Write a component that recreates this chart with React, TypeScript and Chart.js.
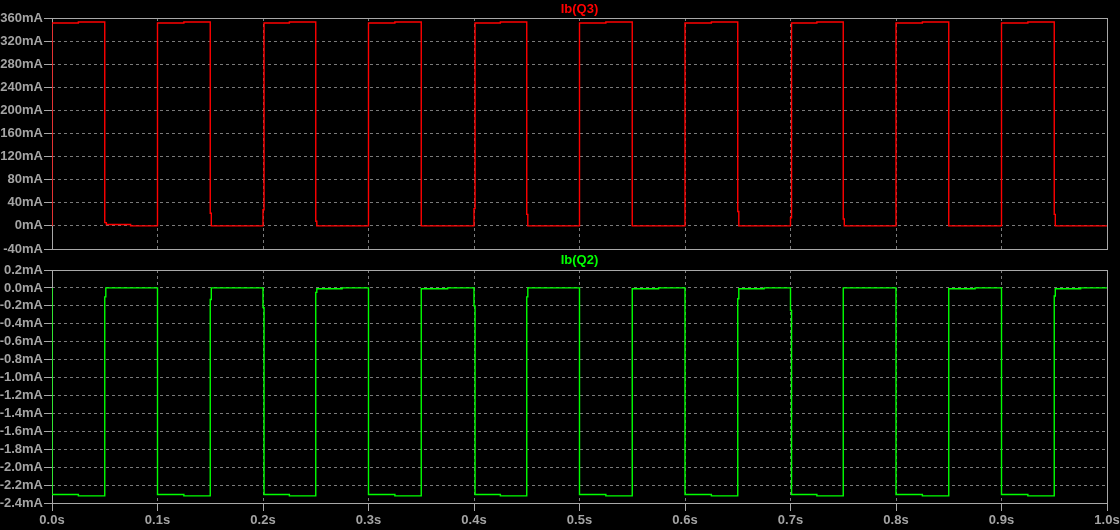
import React, { useEffect, useRef } from "react";
import { Chart, registerables } from "chart.js";

Chart.register(...registerables);

// ---------- data ----------
const xTickValues = [0, 0.1, 0.2, 0.3, 0.4, 0.5, 0.6, 0.7, 0.8, 0.9, 1.0];
const xTickLabels = ["0.0s", "0.1s", "0.2s", "0.3s", "0.4s", "0.5s", "0.6s", "0.7s", "0.8s", "0.9s", "1.0s"];

const q3TickValues = [-40, 0, 40, 80, 120, 160, 200, 240, 280, 320, 360];
const q3TickLabels = ["-40mA", "0mA", "40mA", "80mA", "120mA", "160mA", "200mA", "240mA", "280mA", "320mA", "360mA"];

const q2TickValues = [-2.4, -2.2, -2.0, -1.8, -1.6, -1.4, -1.2, -1.0, -0.8, -0.6, -0.4, -0.2, 0.0, 0.2];
const q2TickLabels = ["-2.4mA", "-2.2mA", "-2.0mA", "-1.8mA", "-1.6mA", "-1.4mA", "-1.2mA", "-1.0mA", "-0.8mA", "-0.6mA", "-0.4mA", "-0.2mA", "0.0mA", "0.2mA"];

// Ib(Q3) in mA, time in s
const q3Times = [
  0, 0, 0.025, 0.025, 0.05, 0.05, 0.0515, 0.0515, 0.0745, 0.0745, 0.1,
  0.1, 0.125, 0.125, 0.15, 0.15, 0.151, 0.151, 0.2,
  0.2, 0.201, 0.201, 0.225, 0.225, 0.25, 0.25, 0.251, 0.251, 0.3,
  0.3, 0.325, 0.325, 0.35, 0.35, 0.4,
  0.4, 0.401, 0.401, 0.425, 0.425, 0.45, 0.45, 0.451, 0.451, 0.5,
  0.5, 0.525, 0.525, 0.55, 0.55, 0.6,
  0.6, 0.625, 0.625, 0.65, 0.65, 0.651, 0.651, 0.7,
  0.7, 0.701, 0.701, 0.725, 0.725, 0.75, 0.75, 0.751, 0.751, 0.8,
  0.8, 0.825, 0.825, 0.85, 0.85, 0.9,
  0.9, 0.925, 0.925, 0.95, 0.95, 0.951, 0.951, 1.0,
];
const q3Values = [
  0, 351.3, 351.3, 353.2, 353.2, 5.7, 5.7, 2.3, 2.3, 0, 0,
  351.3, 351.3, 353.2, 353.2, 22, 22, 0, 0,
  28, 28, 351.3, 351.3, 353.2, 353.2, 8, 8, 0, 0,
  351.3, 351.3, 353.2, 353.2, 0, 0,
  30, 30, 351.3, 351.3, 353.2, 353.2, 20, 20, 0, 0,
  351.3, 351.3, 353.2, 353.2, 0, 0,
  351.3, 351.3, 353.2, 353.2, 25, 25, 0, 0,
  14, 14, 351.3, 351.3, 353.2, 353.2, 12, 12, 0, 0,
  351.3, 351.3, 353.2, 353.2, 0, 0,
  351.3, 351.3, 353.2, 353.2, 20, 20, 0, 0,
];

// Ib(Q2) in mA, time in s
const q2Times = [
  0, 0, 0.025, 0.025, 0.05, 0.05, 0.051, 0.051, 0.1,
  0.1, 0.125, 0.125, 0.15, 0.15, 0.151, 0.151, 0.2,
  0.2, 0.201, 0.201, 0.225, 0.225, 0.25, 0.25, 0.251, 0.251, 0.275, 0.275, 0.3,
  0.3, 0.325, 0.325, 0.35, 0.35, 0.375, 0.375, 0.4,
  0.4, 0.401, 0.401, 0.425, 0.425, 0.45, 0.45, 0.451, 0.451, 0.5,
  0.5, 0.525, 0.525, 0.55, 0.55, 0.575, 0.575, 0.6,
  0.6, 0.625, 0.625, 0.65, 0.65, 0.651, 0.651, 0.675, 0.675, 0.7,
  0.7, 0.701, 0.701, 0.725, 0.725, 0.75, 0.75, 0.8,
  0.8, 0.825, 0.825, 0.85, 0.85, 0.875, 0.875, 0.9,
  0.9, 0.925, 0.925, 0.95, 0.95, 0.951, 0.951, 0.975, 0.975, 1.0,
];
const q2Values = [
  0, -2.305, -2.305, -2.32, -2.32, -0.1, -0.1, 0, 0,
  -2.305, -2.305, -2.32, -2.32, -0.13, -0.13, 0, 0,
  -0.22, -0.22, -2.305, -2.305, -2.32, -2.32, -0.05, -0.05, -0.01, -0.01, 0, 0,
  -2.305, -2.305, -2.32, -2.32, -0.01, -0.01, 0, 0,
  -0.2, -0.2, -2.305, -2.305, -2.32, -2.32, -0.1, -0.1, 0, 0,
  -2.305, -2.305, -2.32, -2.32, -0.01, -0.01, 0, 0,
  -2.305, -2.305, -2.32, -2.32, -0.12, -0.12, -0.01, -0.01, 0, 0,
  -0.25, -0.25, -2.305, -2.305, -2.32, -2.32, 0, 0,
  -2.305, -2.305, -2.32, -2.32, -0.01, -0.01, 0, 0,
  -2.305, -2.305, -2.32, -2.32, -0.09, -0.09, -0.01, -0.01, 0, 0,
];

// ---------- style ----------
const GRID = "#7a7a7a";
const AXIS = "#a8a8a8";
const TEXT = "#a4a4a4";
const FONT = "'Liberation Sans', Arial, sans-serif";
const WIDTH = 1120;

type PaneProps = {
  title: string;
  color: string;
  times: number[];
  values: number[];
  yMin: number;
  yMax: number;
  yTicks: number[];
  yLabels: string[];
  showX: boolean;
  height: number;
  padTop: number;
  xAxisHeight: number;
  titleY: number;
};

function Pane(p: PaneProps) {
  const ref = useRef<HTMLCanvasElement>(null);
  useEffect(() => {
    if (!ref.current) return;
    const framePlugin = {
      id: "frame",
      beforeDatasetsDraw(chart: any) {
        const { ctx, chartArea: a } = chart;
        ctx.save();
        ctx.strokeStyle = AXIS;
        ctx.lineWidth = 1;
        ctx.setLineDash([]);
        ctx.strokeRect(a.left + 0.5, a.top + 0.5, a.right - a.left, a.bottom - a.top);
        ctx.restore();
      },
      afterDraw(chart: any) {
        const { ctx, chartArea: a } = chart;
        ctx.save();
        ctx.fillStyle = p.color;
        ctx.font = `bold 13px ${FONT}`;
        ctx.textAlign = "center";
        ctx.textBaseline = "middle";
        ctx.fillText(p.title, (a.left + a.right) / 2, p.titleY);
        ctx.restore();
      },
    };
    const chart = new Chart(ref.current, {
      type: "line",
      data: {
        datasets: [
          {
            label: p.title,
            data: p.times.map((t, i) => ({ x: t, y: p.values[i] })),
            borderColor: p.color,
            borderWidth: 1.4,
            pointRadius: 0,
            fill: false,
            tension: 0,
          },
        ],
      },
      options: {
        animation: false,
        responsive: false,
        maintainAspectRatio: false,
        events: [],
        layout: { padding: { top: p.padTop, right: 13, left: 0, bottom: 0 } },
        plugins: { legend: { display: false }, tooltip: { enabled: false }, title: { display: false } },
        scales: {
          x: {
            type: "linear",
            min: 0,
            max: 1,
            afterBuildTicks: (s: any) => {
              s.ticks = xTickValues.map((v) => ({ value: v }));
            },
            afterFit: (s: any) => {
              s.height = p.xAxisHeight;
              s.paddingLeft = 0;
              s.paddingRight = 0;
              s.paddingTop = 0;
              s.paddingBottom = 0;
            },
            ticks: {
              display: p.showX,
              autoSkip: false,
              maxRotation: 0,
              padding: 2,
              color: TEXT,
              font: { family: FONT, size: 13, weight: "bold" },
              callback: (_v: any, i: number) => xTickLabels[i],
            },
            grid: {
              color: GRID,
              lineWidth: 1,
              drawTicks: p.showX,
              tickLength: 8,
              tickColor: AXIS,
              tickBorderDash: [],
            },
            border: { display: false, dash: [3, 3] },
          },
          y: {
            type: "linear",
            min: p.yMin,
            max: p.yMax,
            afterBuildTicks: (s: any) => {
              s.ticks = p.yTicks.map((v) => ({ value: v }));
            },
            afterFit: (s: any) => {
              s.width = 52;
              s.paddingTop = 0;
              s.paddingBottom = 0;
              s.paddingLeft = 0;
              s.paddingRight = 0;
            },
            ticks: {
              autoSkip: false,
              padding: 1,
              color: TEXT,
              font: { family: FONT, size: 13, weight: "bold" },
              callback: (_v: any, i: number) => p.yLabels[i],
            },
            grid: {
              color: GRID,
              lineWidth: 1,
              drawTicks: true,
              tickLength: 8,
              tickColor: AXIS,
              tickBorderDash: [],
            },
            border: { display: false, dash: [3, 3] },
          },
        },
      } as any,
      plugins: [framePlugin],
    });
    return () => chart.destroy();
  }, []);
  return <canvas ref={ref} width={WIDTH} height={p.height} style={{ display: "block" }} />;
}

export default function App() {
  return (
    <div
      style={{
        position: "fixed",
        left: 0,
        top: 0,
        width: WIDTH,
        height: 530,
        background: "#000",
        overflow: "hidden",
      }}
    >
      <div style={{ position: "absolute", left: 0, top: 0 }}>
        <Pane
          title="Ib(Q3)"
          color="#ff0000"
          times={q3Times}
          values={q3Values}
          yMin={-40}
          yMax={360}
          yTicks={q3TickValues}
          yLabels={q3TickLabels}
          showX={false}
          height={255}
          padTop={18}
          xAxisHeight={6}
          titleY={9.5}
        />
      </div>
      <div style={{ position: "absolute", left: 0, top: 255 }}>
        <Pane
          title="Ib(Q2)"
          color="#00ff00"
          times={q2Times}
          values={q2Values}
          yMin={-2.4}
          yMax={0.2}
          yTicks={q2TickValues}
          yLabels={q2TickLabels}
          showX={true}
          height={275}
          padTop={15}
          xAxisHeight={27}
          titleY={5.5}
        />
      </div>
    </div>
  );
}
